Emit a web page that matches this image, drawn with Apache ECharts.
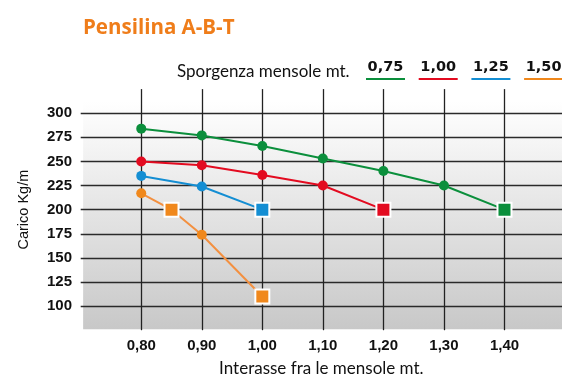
<!DOCTYPE html>
<html>
<head>
<meta charset="utf-8">
<script src="https://cdn.jsdelivr.net/npm/echarts@6/dist/echarts.min.js"></script>
<style>
html,body{margin:0;padding:0;background:#fff;}
#chart{width:562px;height:379px;}
</style>
</head>
<body>
<div id="chart"></div>
<script>
// ---- data ----
const titleText = 'Pensilina A-B-T';
const legendTitle = 'Sporgenza mensole mt.';
const seriesNames = ['0,75', '1,00', '1,25', '1,50'];
const xName = 'Interasse fra le mensole mt.';
const yName = 'Carico Kg/m';

const interasse075 = [0.80, 0.90, 1.00, 1.10, 1.20, 1.30, 1.40];
const carico075    = [284, 277, 266, 253, 240, 225, 200];
const interasse100 = [0.80, 0.90, 1.00, 1.10, 1.20];
const carico100    = [250, 246, 236, 225, 200];
const interasse125 = [0.80, 0.90, 1.00];
const carico125    = [235, 224, 200];
const interasse150 = [0.80, 0.85, 0.90, 1.00];
const carico150    = [217, 200, 174, 110];
// limit points drawn as squares
const limite075 = [1.40];
const limite100 = [1.20];
const limite125 = [1.00];
const limite150 = [0.85, 1.00];

const xTicks = [0.80, 0.90, 1.00, 1.10, 1.20, 1.30, 1.40];
const xTickLabels = ['0,80', '0,90', '1,00', '1,10', '1,20', '1,30', '1,40'];
const yTicks = [100, 125, 150, 175, 200, 225, 250, 275, 300];
const yTickLabels = ['100', '125', '150', '175', '200', '225', '250', '275', '300'];

// ---- styles ----
const colors = ['#0b8f3c', '#e30b20', '#148ed3', '#f0881c'];
const lineColors = ['#0b8f3c', '#e30b20', '#148ed3', '#f39040'];

function buildData(xs, ys, limits) {
  return xs.map((x, i) => {
    const isLimit = limits.some(l => Math.abs(l - x) < 1e-9);
    if (isLimit) {
      return {
        value: [x, ys[i]],
        symbol: 'rect',
        symbolSize: 14,
        itemStyle: { borderColor: '#ffffff', borderWidth: 2 }
      };
    }
    return { value: [x, ys[i]], symbol: 'circle', symbolSize: 10 };
  });
}

const seriesData = [
  buildData(interasse075, carico075, limite075),
  buildData(interasse100, carico100, limite100),
  buildData(interasse125, carico125, limite125),
  buildData(interasse150, carico150, limite150)
];

function labelFor(v, ticks, labels) {
  for (let i = 0; i < ticks.length; i++) {
    if (Math.abs(ticks[i] - v) < 1e-6) return labels[i];
  }
  return '';
}

const chart = echarts.init(document.getElementById('chart'), null, { renderer: 'canvas' });

const rich = {
  t: { fontFamily: 'DejaVu Sans', fontWeight: 'bold', fontSize: 14.5, color: '#111', width: 39, align: 'center', lineHeight: 22 }
};
colors.forEach((c, i) => {
  rich['u' + i] = { backgroundColor: c, width: 39, height: 2, lineHeight: 2 };
});

const xMin = 0.7, xMax = 1.495;
const yMin = 75, yMax = 325;

const series = seriesData.map((d, i) => ({
  name: seriesNames[i],
  type: 'line',
  z: 3,
  data: d,
  lineStyle: { color: lineColors[i], width: 2 },
  itemStyle: { color: colors[i] },
  animation: false
}));

// background gradient band for the plot
series[0].markArea = {
  silent: true,
  itemStyle: {
    color: new echarts.graphic.LinearGradient(0, 0, 0, 1, [
      { offset: 0, color: '#ffffff' },
      { offset: 1, color: '#c8c8c8' }
    ])
  },
  data: [[{ xAxis: 0.704, yAxis: 312 }, { xAxis: xMax, yAxis: 76 }]]
};

chart.setOption({
  animation: false,
  backgroundColor: '#ffffff',
  title: [
    { text: titleText, left: 78, top: 13,
      textStyle: { fontFamily: 'Open Sans', fontWeight: 'bold', fontSize: 20.5, color: '#ef7d1a' } },
    { text: legendTitle, left: 172, top: 58,
      textStyle: { fontFamily: 'Lato', fontWeight: 'normal', fontSize: 17, color: '#111' } }
  ],
  legend: {
    data: seriesNames,
    left: 361,
    top: 59.5,
    width: 230,
    padding: 0,
    icon: 'rect',
    itemWidth: 0,
    itemHeight: 0,
    itemGap: 8.7,
    selectedMode: false,
    formatter: function (name) {
      const i = seriesNames.indexOf(name);
      return '{t|' + name + '}\n{u' + i + '|}';
    },
    textStyle: { rich: rich }
  },
  grid: { left: 80.7, right: 0, top: 89.1, bottom: 48.8, containLabel: false, outerBoundsMode: 'none' },
  xAxis: {
    type: 'value',
    min: xMin, max: xMax, interval: 0.1,
    z: 2,
    name: xName,
    nameLocation: 'middle',
    nameGap: 30,
    nameTextStyle: { fontFamily: 'Lato', fontSize: 17, color: '#111' },
    axisLine: { show: false },
    axisTick: { show: false },
    axisLabel: {
      margin: 8,
      fontFamily: 'Liberation Sans', fontWeight: 'bold', fontSize: 15, color: '#111',
      formatter: v => labelFor(v, xTicks, xTickLabels)
    },
    splitLine: { show: true, showMinLine: false, showMaxLine: false, lineStyle: { color: '#222', width: 1.3 } }
  },
  yAxis: {
    type: 'value',
    min: yMin, max: yMax, interval: 25,
    z: 2,
    name: yName,
    nameLocation: 'middle',
    nameRotate: 90,
    nameGap: 49,
    nameTextStyle: { fontFamily: 'Liberation Sans', fontSize: 14.5, color: '#111' },
    axisLine: { show: false },
    axisTick: { show: false },
    axisLabel: {
      margin: 8.7,
      fontFamily: 'Liberation Sans', fontWeight: 'bold', fontSize: 15, color: '#111',
      formatter: v => labelFor(v, yTicks, yTickLabels)
    },
    splitLine: { show: true, showMinLine: false, showMaxLine: false, lineStyle: { color: '#2a2a2a', width: 1.3 } }
  },
  series: series
});
</script>
</body>
</html>
